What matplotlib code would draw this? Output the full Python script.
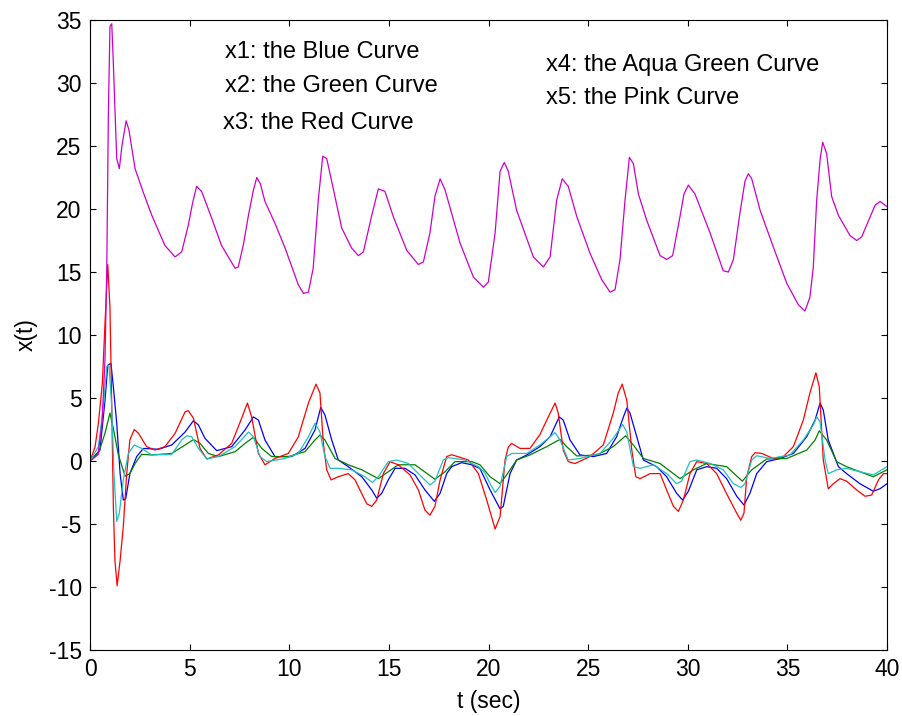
import matplotlib
matplotlib.use("Agg")
import matplotlib.pyplot as plt
import numpy as np

# (t, value) points
blue_pts = [(0, 0), (0.5, 0.87), (0.75, 4.8), (0.89, 7.6), (1.05, 7.75), (1.17, 5.9), (1.34, 3.0),
            (1.51, -1.0), (1.67, -3.1), (1.79, -3.0), (2.0, -1.0), (2.34, 0.35), (2.68, 1.0),
            (3.43, 0.93), (4.1, 1.27), (4.77, 2.3), (5.19, 3.2), (5.44, 2.86), (5.77, 1.8),
            (6.36, 0.82), (7.11, 1.14), (7.78, 2.46), (8.2, 3.5), (8.45, 3.25), (8.78, 1.67),
            (9.28, 0.35), (10.12, 0.35), (10.79, 1.0), (11.29, 2.46), (11.58, 4.26), (11.79, 3.65),
            (12.13, 1.67), (12.46, 0.08), (12.96, -0.45), (13.64, -1.25), (14.14, -2.3),
            (14.39, -2.96), (14.64, -2.56), (14.97, -1.5), (15.31, -0.58), (15.81, -0.58),
            (16.31, -1.1), (16.81, -2.3), (17.28, -3.2), (17.57, -2.56), (17.9, -1.0),
            (18.15, -0.45), (18.65, -0.13), (19.16, -0.3), (19.57, -0.6), (20.08, -2.3),
            (20.58, -3.8), (20.74, -3.6), (21.08, -1.0), (21.41, 0.08), (21.92, 0.48),
            (22.58, 1.14), (23.09, 1.93), (23.55, 3.5), (23.75, 3.25), (24.09, 1.67),
            (24.59, 0.48), (25.26, 0.35), (25.93, 0.6), (26.43, 1.93), (26.77, 3.5), (26.94, 4.2),
            (27.1, 3.8), (27.44, 1.93), (27.77, 0.08), (28.44, -0.45), (28.94, -1.25),
            (29.44, -2.56), (29.74, -3.1), (30.03, -2.4), (30.45, -0.7), (30.95, -0.45),
            (31.45, -0.58), (31.95, -1.4), (32.46, -2.8), (32.82, -3.5), (33.12, -2.56),
            (33.46, -1.0), (33.96, -0.05), (34.63, 0.2), (35.3, 0.6), (35.97, 1.93), (36.39, 3.25),
            (36.64, 4.6), (36.8, 4.05), (37.05, 1.67), (37.56, -0.45), (37.97, -1.0),
            (38.64, -1.8), (39.31, -2.4), (39.65, -2.2), (40, -1.8)]

green_pts = [(0, 0), (0.42, 0.6), (0.75, 2.2), (1.0, 3.8), (1.17, 2.6), (1.42, 0.5), (1.76, -1.2),
             (2.0, -1.0), (2.26, -0.2), (2.59, 0.53), (3.1, 0.48), (4.1, 0.6), (4.77, 1.27),
             (5.19, 1.7), (5.52, 1.4), (5.94, 0.6), (6.44, 0.35), (7.28, 0.74), (7.78, 1.4),
             (8.2, 1.88), (8.62, 1.0), (9.12, 0.35), (9.95, 0.35), (10.79, 0.74), (11.29, 1.67),
             (11.54, 2.06), (11.79, 1.67), (12.3, 0.2), (12.96, -0.3), (13.64, -0.7),
             (14.47, -1.4), (14.97, -0.85), (15.47, -0.3), (16.31, -0.3), (17.31, -1.45),
             (17.82, -0.85), (18.32, -0.05), (19.16, -0.05), (19.57, -0.3), (20.08, -1.25),
             (20.58, -1.8), (20.91, -1.1), (21.41, 0.08), (22.08, 0.48), (22.92, 1.14),
             (23.59, 1.72), (23.92, 1.14), (24.43, 0.4), (25.43, 0.48), (26.26, 1.14),
             (26.88, 2.0), (27.27, 1.27), (27.77, 0.2), (28.61, -0.2), (29.61, -1.4),
             (30.28, -0.7), (30.95, -0.2), (31.95, -0.45), (32.74, -1.6), (33.21, -0.7),
             (33.96, 0.16), (34.97, 0.2), (35.97, 0.87), (36.39, 1.67), (36.6, 2.4),
             (36.97, 1.67), (37.47, -0.05), (37.97, -0.45), (38.64, -0.85), (39.31, -1.25),
             (40, -0.7)]

red_pts = [(0, 0), (0.25, 1.1), (0.42, 3.0), (0.62, 6.2), (0.75, 10.9), (0.89, 15.6), (1.0, 12.2),
           (1.09, 4.3), (1.17, -3.6), (1.25, -7.9), (1.36, -9.9), (1.51, -7.9), (1.67, -5.2),
           (1.84, -1.0), (2.0, 1.67), (2.22, 2.5), (2.43, 2.2), (2.84, 1.14), (3.26, 0.87),
           (3.76, 1.14), (4.27, 2.2), (4.77, 3.9), (4.93, 4.0), (5.19, 3.4), (5.52, 1.0),
           (5.86, 0.16), (6.44, 0.48), (7.11, 1.4), (7.61, 3.4), (7.9, 4.6), (8.11, 3.5),
           (8.45, 0.6), (8.78, -0.3), (9.28, 0.2), (9.95, 0.6), (10.45, 1.9), (10.96, 4.6),
           (11.34, 6.1), (11.54, 5.4), (11.71, 1.4), (11.88, -0.7), (12.1, -1.5), (12.46, -1.25),
           (12.96, -1.0), (13.3, -1.5), (13.64, -2.6), (13.89, -3.4), (14.14, -3.6),
           (14.39, -3.1), (14.72, -1.0), (15.06, -0.05), (15.47, -0.3), (16.06, -1.1),
           (16.48, -2.3), (16.81, -3.9), (17.06, -4.3), (17.31, -3.6), (17.57, -1.5),
           (17.9, 0.35), (18.15, 0.5), (18.99, 0.08), (19.49, -1.0), (19.91, -3.1),
           (20.33, -5.4), (20.58, -4.4), (20.83, 0.08), (20.99, 1.1), (21.16, 1.4), (21.58, 1.0),
           (22.08, 1.0), (22.58, 2.1), (23.0, 3.5), (23.34, 4.6), (23.5, 3.8), (23.75, 0.87),
           (24.0, -0.05), (24.34, -0.2), (25.09, 0.35), (25.76, 1.27), (26.26, 3.8),
           (26.51, 5.4), (26.71, 6.1), (26.94, 4.8), (27.19, 0.87), (27.39, -1.25),
           (27.61, -1.4), (28.11, -1.0), (28.61, -1.0), (28.94, -2.3), (29.28, -3.6),
           (29.53, -4.0), (29.78, -3.1), (30.11, -1.0), (30.45, -0.05), (30.95, -0.2),
           (31.45, -1.0), (31.95, -2.6), (32.46, -4.15), (32.66, -4.7), (32.82, -4.15),
           (32.96, -1.25), (33.21, 0.35), (33.38, 0.66), (33.71, 0.6), (34.29, 0.2),
           (34.8, 0.35), (35.3, 1.14), (35.8, 3.25), (36.13, 5.4), (36.43, 7.0), (36.6, 5.9),
           (36.8, 0.08), (37.05, -2.2), (37.31, -1.8), (37.64, -1.4), (37.97, -1.6),
           (38.48, -2.3), (38.9, -2.8), (39.23, -2.7), (39.57, -1.5), (39.82, -1.0), (40, -1.0)]

aqua_pts = [(0, 0), (0.42, 1.14), (0.67, 4.3), (0.84, 7.5), (0.95, 7.6), (1.09, 4.3), (1.2, -1.0),
            (1.34, -4.8), (1.47, -4.15), (1.67, -1.5), (1.92, 0.6), (2.22, 1.27), (2.59, 1.0),
            (3.1, 0.48), (4.1, 0.53), (4.6, 1.67), (4.85, 2.0), (5.1, 1.93), (5.44, 1.0),
            (5.86, 0.16), (6.44, 0.35), (7.28, 1.14), (7.95, 2.3), (8.2, 1.93), (8.53, 0.35),
            (8.87, -0.05), (9.79, 0.2), (10.45, 0.6), (10.96, 1.93), (11.29, 3.0), (11.54, 2.3),
            (11.79, 0.35), (12.05, -0.58), (12.46, -0.58), (13.13, -0.7), (13.8, -1.25),
            (14.17, -1.7), (14.47, -1.25), (14.97, -0.05), (15.39, 0.08), (15.98, -0.2),
            (16.48, -1.0), (17.06, -1.9), (17.31, -1.6), (17.73, 0.08), (17.98, 0.27),
            (18.82, 0.08), (19.49, -0.45), (19.8, -0.9), (20.08, -1.8), (20.33, -2.5),
            (20.58, -2.0), (20.91, 0.35), (21.16, 0.6), (21.92, 0.6), (22.58, 1.27),
            (23.09, 1.93), (23.34, 2.25), (23.59, 1.67), (24.0, 0.08), (24.59, 0.2), (25.6, 0.6),
            (26.26, 1.8), (26.73, 2.9), (26.94, 2.3), (27.27, -0.45), (27.61, -0.58),
            (28.28, -0.3), (28.94, -1.0), (29.44, -1.8), (29.69, -1.6), (30.11, -0.05),
            (30.45, 0.08), (31.12, -0.2), (31.78, -0.7), (32.29, -1.8), (32.66, -2.1),
            (32.87, -1.8), (33.21, 0.08), (33.46, 0.42), (34.13, 0.2), (35.13, 0.48),
            (35.8, 1.67), (36.3, 2.86), (36.47, 3.5), (36.64, 3.1), (36.89, 0.08), (37.05, -1.0),
            (37.47, -0.7), (37.97, -0.58), (38.64, -0.85), (39.31, -1.1), (40, -0.45)]

pink_pts = [(0, 0), (0.4, 0.5), (0.6, 3), (0.75, 8), (0.84, 15.3), (0.92, 27.5), (1.0, 34.5),
            (1.09, 34.7), (1.16, 32), (1.25, 28), (1.34, 24.0), (1.47, 23.2), (1.6, 25),
            (1.81, 27.0), (1.95, 26.3), (2.26, 23.2), (2.7, 21.2), (3.1, 19.5), (3.76, 17.1),
            (4.27, 16.2), (4.6, 16.6), (4.93, 18.7), (5.15, 20.5), (5.35, 21.8), (5.6, 21.4),
            (6.1, 19.3), (6.6, 17.1), (7.28, 15.3), (7.44, 15.4), (7.7, 17.2), (7.95, 19.5),
            (8.2, 21.5), (8.37, 22.5), (8.55, 22.0), (8.78, 20.6), (9.3, 18.8), (9.79, 16.9),
            (10.45, 14.0), (10.71, 13.3), (10.96, 13.4), (11.2, 15.3), (11.46, 20.8),
            (11.68, 24.2), (11.88, 24.0), (12.21, 21.6), (12.63, 18.5), (13.13, 16.9),
            (13.47, 16.3), (13.72, 16.6), (14.14, 19.5), (14.47, 21.6), (14.8, 21.4),
            (15.22, 19.4), (15.9, 16.7), (16.48, 15.6), (16.73, 15.8), (17.06, 18.1),
            (17.31, 21.0), (17.57, 22.4), (17.82, 21.5), (18.57, 17.3), (19.24, 14.6),
            (19.74, 13.8), (19.99, 14.2), (20.33, 18.1), (20.58, 23.0), (20.79, 23.7),
            (20.99, 23.0), (21.41, 19.9), (22.25, 16.2), (22.75, 15.4), (23.09, 16.2),
            (23.42, 20.7), (23.7, 22.4), (24.0, 21.8), (24.43, 19.4), (25.09, 16.5),
            (25.68, 14.4), (26.1, 13.4), (26.35, 13.6), (26.6, 16.0), (26.85, 20.7),
            (27.07, 24.1), (27.27, 23.6), (27.52, 21.2), (27.94, 19.1), (28.61, 16.3),
            (28.94, 16.0), (29.24, 16.3), (29.61, 19.4), (29.81, 21.2), (30.03, 21.9),
            (30.36, 21.2), (31.12, 18.1), (31.78, 15.1), (32.04, 15.0), (32.29, 16.0),
            (32.62, 19.7), (32.87, 22.2), (33.04, 22.8), (33.21, 22.4), (33.63, 19.9),
            (34.29, 17.0), (34.97, 14.1), (35.55, 12.4), (35.88, 11.9), (36.13, 13.0),
            (36.3, 15.4), (36.47, 20.7), (36.64, 23.9), (36.77, 25.3), (36.97, 24.4),
            (37.22, 21.0), (37.56, 19.5), (38.14, 17.9), (38.48, 17.5), (38.73, 17.8),
            (39.4, 20.3), (39.65, 20.6), (40, 20.2)]

curve_labels = ["x1: the Blue Curve", "x2: the Green Curve", "x3: the Red Curve",
                "x4: the Aqua Green Curve", "x5: the Pink Curve"]

plt.rcParams["font.family"] = ["Liberation Sans", "DejaVu Sans"]
plt.rcParams["font.size"] = 16.5
plt.rcParams["axes.unicode_minus"] = False

fig = plt.figure(figsize=(9.03, 7.16), dpi=100)
ax = fig.add_axes([0.0997, 0.0922, 0.8826, 0.8798])

series = [(blue_pts, "#0000FF"), (green_pts, "#008000"), (red_pts, "#FF0000"),
          (aqua_pts, "#20C0C0"), (pink_pts, "#CC00CC")]
for pts, col in series:
    t, v = np.array(pts).T
    ax.plot(t, v, color=col, lw=0.9)

ax.set_xlim(0, 40)
ax.set_ylim(-15, 35)
ax.set_xticks(np.arange(0, 41, 5))
ax.set_yticks(np.arange(-15, 36, 5))
ax.tick_params(direction="in", top=True, right=True, length=4, width=0.8, pad=6)
for s in ax.spines.values():
    s.set_linewidth(0.8)
ax.set_xlabel("t (sec)", labelpad=6)
ax.set_ylabel("x(t)", labelpad=8)

# annotation texts, slightly larger than the tick labels
ax.text(6.78, 32.5, curve_labels[0], va="center", fontsize=17)
ax.text(6.78, 29.8, curve_labels[1], va="center", fontsize=17)
ax.text(6.67, 26.8, curve_labels[2], va="center", fontsize=17)
ax.text(22.9, 31.4, curve_labels[3], va="center", fontsize=17)
ax.text(22.9, 28.8, curve_labels[4], va="center", fontsize=17)

fig.savefig("out.png", dpi=100)
